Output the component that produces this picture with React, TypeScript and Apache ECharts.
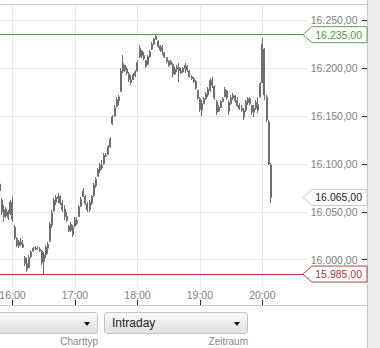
import React, { useEffect, useRef } from 'react';
import * as echarts from 'echarts';

// Intraday bars: first bar time (minutes after midnight, 15:48) and bar length
const startMinute = 948;
const barMinutes = 2;

// [open, close, low, high]
const ohlc: number[][] = [
  [16079, 16072, 16070.7, 16080.1],
  [16062, 16050, 16046.7, 16064.5],
  [16052, 16045, 16039.4, 16057.1],
  [16046, 16053, 16043.6, 16055.0],
  [16050, 16044, 16041.5, 16051.9],
  [16048, 16060, 16046.7, 16062.3],
  [16060, 16042, 16039.4, 16065.5],
  [16034, 16023, 16020.6, 16036.2],
  [16022, 16015, 16013.3, 16023.7],
  [16015, 16019, 16012.2, 16020.6],
  [16018, 16016, 16014.3, 16022.7],
  [16016, 16013, 16012.2, 16020.6],
  [16002, 15996, 15993.4, 16003.9],
  [15996, 15990, 15987.2, 16001.8],
  [15992, 16002, 15991.3, 16004.9],
  [16003, 16008, 16001.8, 16010.1],
  [16009, 16012, 16008.0, 16013.3],
  [16012, 16012.5, 16010.1, 16014.3],
  [16012, 16011, 16010.1, 16014.3],
  [16011, 16009, 16008.0, 16013.3],
  [16009, 15997, 15994.5, 16010.1],
  [15998, 16005, 15985.0, 16008.0],
  [16005, 16013, 16001.8, 16015.3],
  [16012, 16016, 16006.0, 16018.5],
  [16019, 16037, 16018.5, 16039.4],
  [16036, 16049, 16033.1, 16051.9],
  [16051, 16062, 16049.8, 16064.5],
  [16060, 16065, 16057.1, 16067.6],
  [16064, 16066, 16059.2, 16069.7],
  [16066, 16059, 16057.1, 16067.6],
  [16059, 16052, 16049.8, 16062.3],
  [16053, 16045, 16041.5, 16057.1],
  [16045, 16041, 16039.4, 16049.8],
  [16035, 16030, 16028.9, 16036.2],
  [16031, 16037, 16028.9, 16039.4],
  [16034, 16026, 16023.7, 16036.2],
  [16035, 16042, 16034.2, 16044.6],
  [16041, 16038, 16036.2, 16044.6],
  [16045, 16055, 16044.6, 16057.1],
  [16056, 16063, 16055.0, 16065.5],
  [16066, 16072, 16065.5, 16074.9],
  [16066, 16059, 16057.1, 16067.6],
  [16058, 16052, 16049.8, 16060.3],
  [16052, 16060, 16049.8, 16062.3],
  [16059, 16066, 16057.1, 16067.6],
  [16067, 16078, 16065.5, 16080.1],
  [16077, 16084, 16074.9, 16086.4],
  [16087, 16094, 16086.4, 16095.8],
  [16093, 16099, 16090.5, 16101.0],
  [16098, 16096, 16093.7, 16104.1],
  [16100, 16109, 16098.9, 16111.4],
  [16109, 16108, 16107.2, 16111.4],
  [16110, 16118, 16109.3, 16119.8],
  [16118, 16126, 16116.6, 16128.1],
  [16142, 16149, 16140.7, 16151.1],
  [16150, 16159, 16149.0, 16161.6],
  [16160, 16167, 16159.5, 16169.9],
  [16166, 16170, 16161.6, 16172.0],
  [16176, 16197, 16175.1, 16200.2],
  [16197, 16205, 16195.0, 16213.8],
  [16203, 16198, 16196.0, 16203.3],
  [16199, 16195, 16192.9, 16201.2],
  [16194, 16188, 16185.6, 16196.0],
  [16188, 16185, 16182.4, 16192.9],
  [16188, 16193, 16187.7, 16195.0],
  [16192, 16196, 16190.8, 16198.1],
  [16197, 16206, 16196.0, 16208.5],
  [16212, 16221, 16210.6, 16224.2],
  [16218, 16213, 16210.6, 16219.0],
  [16213, 16210, 16208.5, 16216.9],
  [16208, 16202, 16200.2, 16208.5],
  [16204, 16212, 16203.3, 16213.8],
  [16212, 16217, 16210.6, 16219.0],
  [16220, 16225, 16219.0, 16227.3],
  [16225, 16230, 16224.2, 16231.5],
  [16230, 16233, 16229.4, 16235.0],
  [16228, 16223, 16221.1, 16229.4],
  [16223, 16219, 16216.9, 16224.2],
  [16218, 16222, 16213.8, 16224.2],
  [16216, 16212, 16210.6, 16216.9],
  [16211, 16207, 16205.4, 16211.7],
  [16207, 16203, 16201.2, 16208.5],
  [16204, 16207, 16203.3, 16208.5],
  [16204, 16194, 16190.8, 16205.4],
  [16194, 16199, 16192.9, 16201.2],
  [16199, 16201, 16196.0, 16203.3],
  [16201, 16197, 16185.6, 16205.4],
  [16197, 16195, 16193.9, 16200.2],
  [16196, 16200, 16195.0, 16201.2],
  [16200, 16203, 16195.0, 16205.4],
  [16202, 16198, 16196.0, 16203.3],
  [16197, 16191, 16189.7, 16198.1],
  [16191, 16189, 16187.7, 16192.9],
  [16189, 16186, 16184.5, 16190.8],
  [16186, 16179, 16177.2, 16187.7],
  [16177, 16169, 16166.8, 16177.2],
  [16168, 16157, 16154.2, 16169.9],
  [16156, 16163, 16150.1, 16166.8],
  [16163, 16168, 16162.6, 16169.9],
  [16168, 16173, 16166.8, 16175.1],
  [16172, 16178, 16169.9, 16180.3],
  [16177, 16187, 16175.1, 16189.7],
  [16187, 16182, 16179.3, 16190.8],
  [16181, 16169, 16166.8, 16182.4],
  [16165, 16154, 16151.1, 16166.8],
  [16155, 16159, 16154.2, 16161.6],
  [16159, 16165, 16158.4, 16166.8],
  [16165, 16168, 16164.7, 16169.9],
  [16170, 16178, 16169.9, 16180.3],
  [16176, 16169, 16166.8, 16177.2],
  [16164, 16155, 16151.1, 16166.8],
  [16163, 16169, 16161.6, 16172.0],
  [16169, 16172, 16166.8, 16174.1],
  [16171, 16166, 16163.6, 16172.0],
  [16166, 16161, 16159.5, 16169.9],
  [16161, 16158, 16156.3, 16163.6],
  [16158, 16156, 16154.2, 16161.6],
  [16156, 16149, 16145.9, 16158.4],
  [16156, 16165, 16154.2, 16166.8],
  [16164, 16168, 16161.6, 16169.9],
  [16168, 16163, 16161.6, 16169.9],
  [16161, 16154, 16151.1, 16161.6],
  [16154, 16158, 16149.0, 16161.6],
  [16158, 16164, 16156.3, 16166.8],
  [16162, 16156, 16153.2, 16169.9],
  [16170, 16184, 16168.9, 16185.6],
  [16185, 16225, 16184.5, 16231.5],
  [16220, 16172, 16166.8, 16221.1],
  [16170, 16146, 16143.8, 16172.0],
  [16144, 16100, 16098.9, 16145.9],
  [16099, 16065, 16059.2, 16101.0],
];

const yTicks = [16000, 16050, 16100, 16150, 16200, 16250];
const xTicks = [960, 1020, 1080, 1140, 1200]; // 16:00 ... 20:00
const xMin = 948;
const xMax = 1300.5;
const yMin = 15971.5;
const yMax = 16267;
const highLine = 16235;
const lowLine = 15985;
const lastPrice = 16065;

const FONT = "'Liberation Sans', Arial, Helvetica, sans-serif";

function fmtDE(v: number): string {
  const [i, d] = v.toFixed(2).split('.');
  return i.replace(/\B(?=(\d{3})+(?!\d))/g, '.') + ',' + d;
}
function fmtTime(v: number): string {
  const h = Math.floor(v / 60);
  const m = Math.round(v - h * 60);
  return h + ':' + (m < 10 ? '0' + m : String(m));
}

const GRID_RIGHT_X = 367;

export default function App() {
  const ref = useRef<HTMLDivElement>(null);

  useEffect(() => {
    const el = ref.current;
    if (!el) return;
    const chart = echarts.init(el, null, { renderer: 'svg' });
    const seriesData = ohlc.map((b, k) => [startMinute + k * barMinutes, b[0], b[1], b[2], b[3]]);
    const barColor = '#716e6e';
    chart.setOption({
      animation: false,
      grid: { left: 0, right: 380 - GRID_RIGHT_X, top: 4, bottom: 23, containLabel: false, outerBoundsMode: 'none' },
      xAxis: [
        {
          type: 'value',
          position: 'bottom',
          min: xMin,
          max: xMax,
          axisLine: { show: false },
          axisTick: { show: false, customValues: xTicks },
          axisLabel: {
            customValues: xTicks,
            formatter: (v: number) => fmtTime(v),
            margin: 2,
            color: '#808080',
            fontSize: 10.5,
            fontFamily: FONT,
          },
          splitLine: { show: true, lineStyle: { color: '#e8e8e8', width: 1 } },
        },
        {
          type: 'value',
          position: 'bottom',
          offset: 18,
          min: xMin,
          max: xMax,
          axisLine: { show: true, lineStyle: { color: '#c8c8c8', width: 1 } },
          axisTick: { show: true, inside: true, length: 5, customValues: xTicks, lineStyle: { color: '#222', width: 1 } },
          axisLabel: { show: false },
          splitLine: { show: false },
        },
      ],
      yAxis: {
        type: 'value',
        position: 'right',
        min: yMin,
        max: yMax,
        axisLine: { show: false },
        axisTick: { show: true, inside: true, length: 5, customValues: yTicks, lineStyle: { color: '#222', width: 1 } },
        axisLabel: {
          inside: true,
          customValues: yTicks,
          formatter: (v: number) => fmtDE(v),
          margin: 6.5,
          color: '#808080',
          fontSize: 10.5,
          fontFamily: FONT,
          backgroundColor: '#fff',
          padding: [1, 3, 1, 3],
        },
        splitLine: { show: true, lineStyle: { color: '#e8e8e8', width: 1 } },
      },
      series: [
        {
          type: 'candlestick',
          xAxisIndex: 0,
          yAxisIndex: 0,
          data: seriesData,
          encode: { x: 0, y: [1, 2, 3, 4] },
          barWidth: 1.5,
          itemStyle: {
            color: barColor,
            color0: barColor,
            borderColor: barColor,
            borderColor0: barColor,
            borderWidth: 1,
          },
          markLine: {
            silent: true,
            symbol: ['none', 'none'],
            label: { show: false },
            lineStyle: { type: 'solid', width: 1 },
            data: [
              { yAxis: highLine, lineStyle: { color: '#58a040', type: 'solid', width: 1 } },
              { yAxis: lowLine, lineStyle: { color: '#ad3535', type: 'solid', width: 1 } },
            ],
          },
        },
      ],
    });

    const yOf = (v: number) => chart.convertToPixel({ yAxisIndex: 0 }, v) as number;
    const tags = [
      { value: highLine, stroke: '#5ca647', color: '#4b9b32' },
      { value: lastPrice, stroke: '#cccccc', color: '#222222' },
      { value: lowLine, stroke: '#b04545', color: '#a93434' },
    ];
    const xR = GRID_RIGHT_X;
    const xP = xR - 64;
    const elements: any[] = [];
    tags.forEach((t) => {
      const y = yOf(t.value);
      elements.push({
        type: 'polygon',
        z: 50,
        shape: {
          points: [
            [xP, y],
            [xP + 9, y - 8],
            [xR, y - 8],
            [xR, y + 8],
            [xP + 9, y + 8],
          ],
        },
        style: { fill: '#ffffff', stroke: t.stroke, lineWidth: 1 },
      });
      elements.push({
        type: 'text',
        z: 51,
        x: xR - 5,
        y: y,
        style: {
          text: fmtDE(t.value),
          fill: t.color,
          fontSize: 10.5,
          fontFamily: FONT,
          align: 'right',
          verticalAlign: 'middle',
        },
      });
    });
    chart.setOption({ graphic: { elements } });

    return () => chart.dispose();
  }, []);

  const ddBase: React.CSSProperties = {
    position: 'absolute',
    top: 312,
    height: 22,
    boxSizing: 'border-box',
    border: '1px solid #c6c6c6',
    borderRadius: 3,
    background: 'linear-gradient(#f8f8f8, #e1e1e1)',
    fontFamily: FONT,
  };
  const arrow: React.CSSProperties = {
    position: 'absolute',
    right: 7,
    top: 9,
    width: 0,
    height: 0,
    borderLeft: '3.5px solid transparent',
    borderRight: '3.5px solid transparent',
    borderTop: '4px solid #111',
  };
  const caption: React.CSSProperties = {
    position: 'absolute',
    top: 336,
    fontSize: 10,
    lineHeight: '12px',
    color: '#888',
    fontFamily: FONT,
    textAlign: 'right',
    whiteSpace: 'nowrap',
  };

  return (
    <div
      style={{
        position: 'absolute',
        left: 0,
        top: 0,
        width: 380,
        height: 348,
        overflow: 'hidden',
        background: '#fff',
      }}
    >
      <div style={{ position: 'absolute', left: 0, top: 4, width: 367, height: 1, background: '#c8c8c8' }} />
      <div
        style={{
          position: 'absolute',
          left: 367,
          top: 0,
          width: 13,
          height: 348,
          boxSizing: 'border-box',
          borderLeft: '1px solid #c8c8c8',
          background: '#ededed',
        }}
      />
      <div ref={ref} style={{ position: 'absolute', left: 0, top: 0, width: 380, height: 310 }} />
      <div style={{ ...ddBase, left: -20, width: 118 }}>
        <div style={arrow} />
      </div>
      <div style={{ ...ddBase, left: 104, width: 144 }}>
        <div
          style={{
            position: 'absolute',
            left: 7,
            top: 0,
            lineHeight: '20px',
            fontSize: 12,
            color: '#222',
          }}
        >
          Intraday
        </div>
        <div style={arrow} />
      </div>
      <div style={{ ...caption, right: 380 - 98 }}>Charttyp</div>
      <div style={{ ...caption, right: 380 - 248 }}>Zeitraum</div>
    </div>
  );
}
